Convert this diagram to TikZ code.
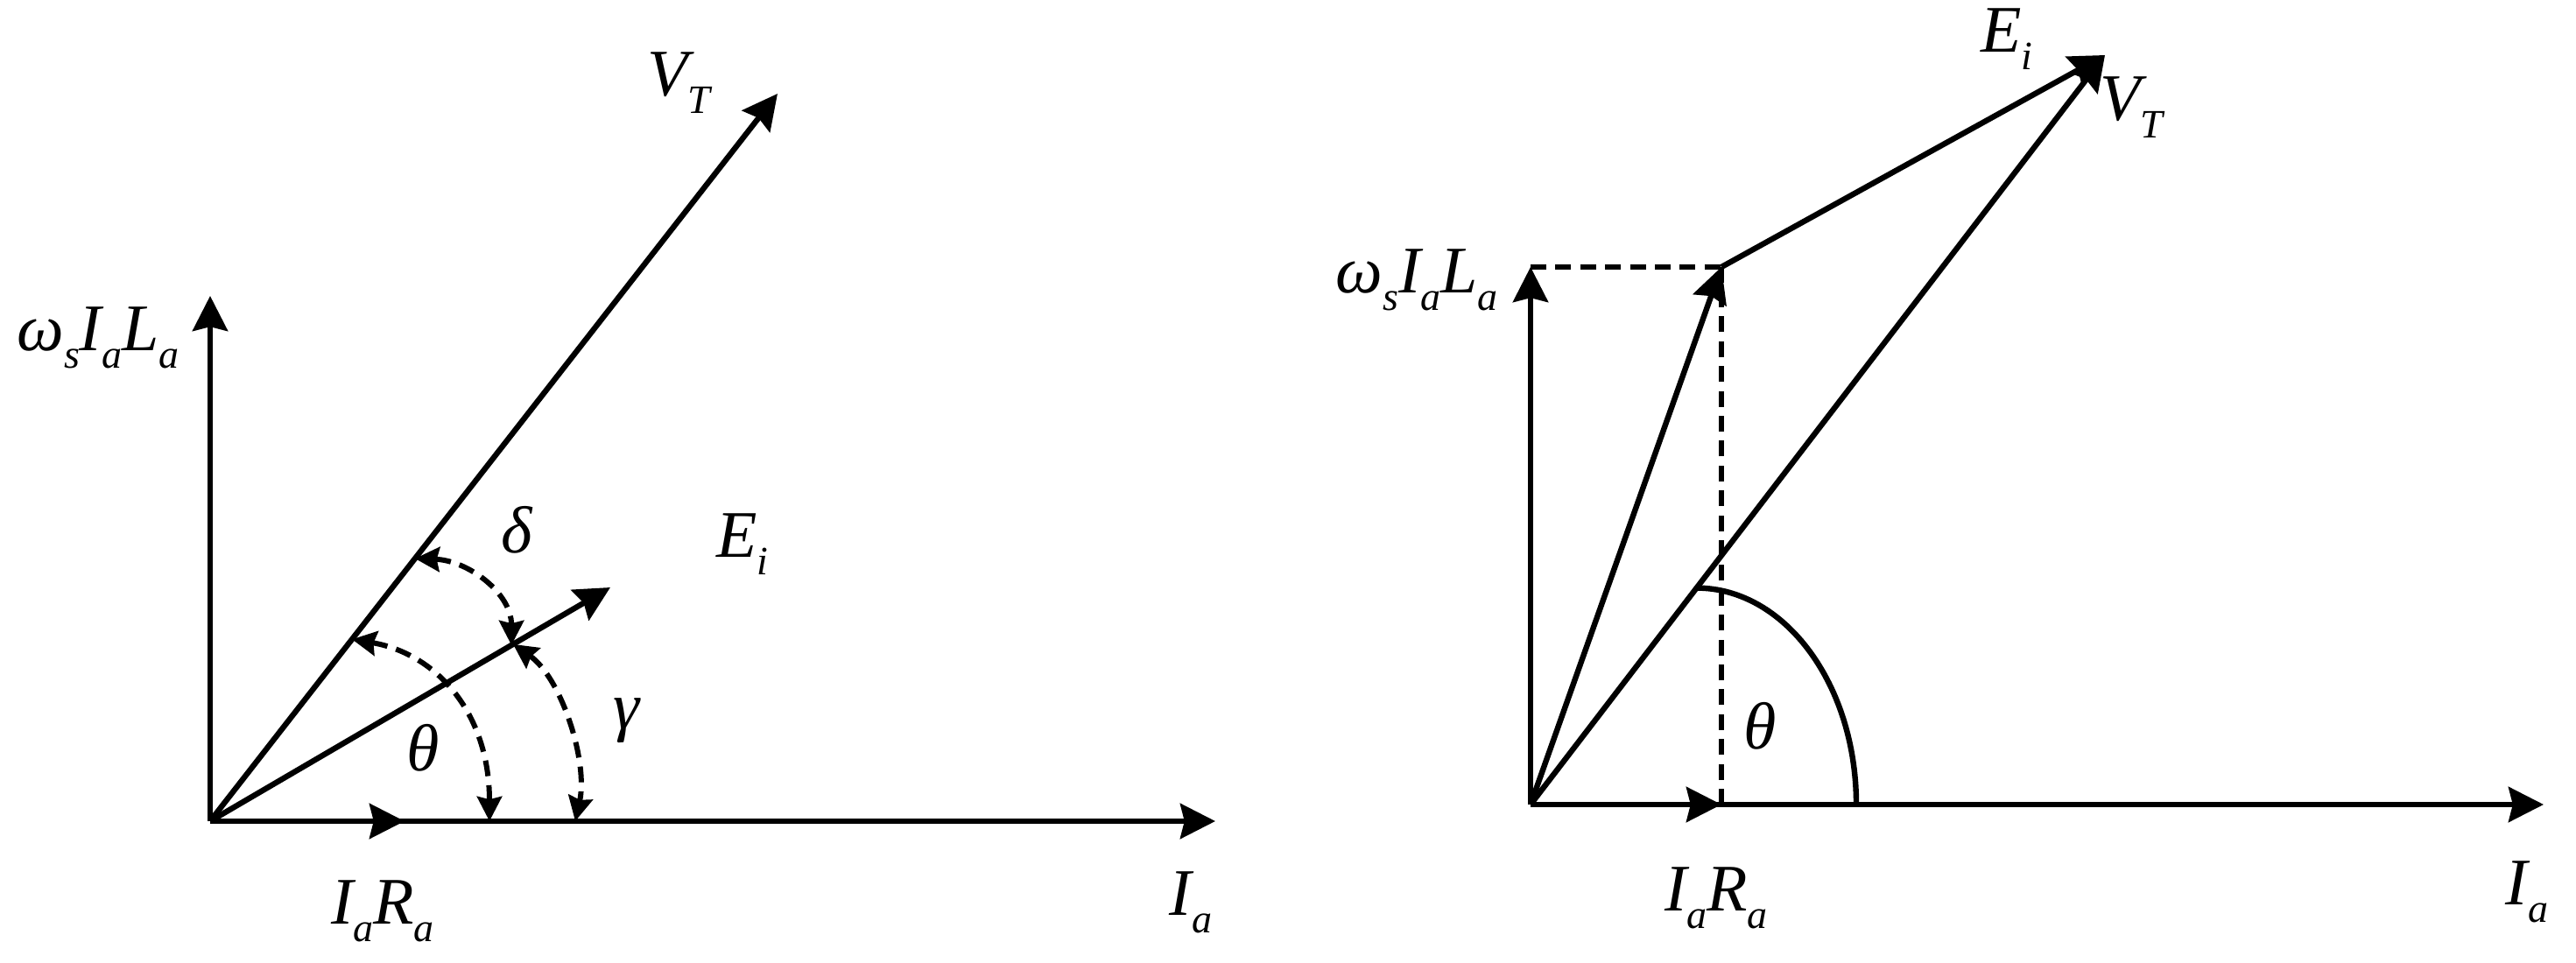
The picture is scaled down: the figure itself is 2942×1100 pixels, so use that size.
\documentclass[tikz,border=0pt]{standalone}
\usepackage{fontspec}
\setmainfont{Liberation Serif}
\usetikzlibrary{arrows.meta,calc}
\newcommand{\lsub}[1]{\raisebox{-5pt}{\fontsize{11.5}{13}\selectfont\itshape #1}}
\begin{document}
\begin{tikzpicture}[x=0.25pt,y=-0.25pt,
  vec/.style={line width=1.6pt,-{Stealth[length=10pt,width=10pt,inset=1.2pt]}},
  plain/.style={line width=1.6pt},
  dsh/.style={line width=1.5pt,dash pattern=on 4.5pt off 2.6pt},
  angarr/.style={dsh,{Stealth[length=7pt,width=7pt,inset=0.8pt]}-{Stealth[length=7pt,width=7pt,inset=0.8pt]}},
  lbl/.style={font=\fontsize{19}{22}\selectfont\itshape, inner sep=0pt, anchor=base}]
\useasboundingbox (0,0) rectangle (2942,1100);
% ---------------- left diagram ----------------
\coordinate (O1) at (240,938);
\coordinate (Y1) at (240,338);
\coordinate (X1) at (1388,938);
\coordinate (V1) at (888,107);
\coordinate (E1) at (697,671);
\coordinate (R1) at (462,938);
\coordinate (thA) at ($(O1)!0.25!(V1)$);
\coordinate (thB) at (559,938);
\coordinate (deA) at ($(O1)!0.361!(V1)$);
\coordinate (deB) at ($(O1)!0.753!(E1)$);
\coordinate (gaA) at ($(O1)!0.757!(E1)$);
\coordinate (gaB) at (657,938);
\draw[vec] (O1) -- (Y1);
\draw[vec] (O1) -- (X1);
\draw[vec] (O1) -- (V1);
\draw[vec] (O1) -- (E1);
\draw[vec] (O1) -- (R1);
\draw[angarr] (thA) .. controls ($(thA)+(95,16)$) and ($(thB)+(0,-125)$) .. (thB);
\draw[angarr] (deA) .. controls ($(deA)+(60,2)$) and ($(deB)+(0,-60)$) .. (deB);
\draw[angarr] (gaA) .. controls ($(gaA)+(55,38)$) and ($(gaB)+(15,-68)$) .. (gaB);
\node[lbl] (lV) at (775,110) {V\lsub{T}};
\node[lbl] (lW) at (112,401) {ω\lsub{s}I\lsub{a}L\lsub{a}};
\node[lbl] (lE) at (848,637) {E\lsub{i}};
\node[lbl] (lD) at (590,632) {δ};
\node[lbl] (lT) at (483,880) {θ};
\node[lbl] (lG) at (715,832) {γ};
\node[lbl] (lIR) at (437,1055) {I\lsub{a}R\lsub{a}};
\node[lbl] (lI) at (1360,1045) {I\lsub{a}};
% ---------------- right diagram ----------------
\coordinate (O2) at (1748,919);
\coordinate (Y2) at (1748,305);
\coordinate (X2) at (2905,919);
\coordinate (T2) at (2404,63);
\coordinate (C2) at (1966,305);
\coordinate (R2) at (1966,919);
\coordinate (P2) at ($(O2)!0.289!(T2)$);
\coordinate (Q2) at (2120,919);
\draw[dsh] (Y2) -- (C2);
\draw[dsh] (R2) -- (C2);
\draw[plain] (P2) .. controls ($(P2)+(101,0)$) and ($(Q2)+(0,-137)$) .. (Q2);
\draw[vec] (O2) -- (Y2);
\draw[vec] (O2) -- (X2);
\draw[vec] (O2) -- (R2);
\draw[vec] (O2) -- (C2);
\draw[vec] (C2) -- (T2);
\draw[vec] (O2) -- (T2);
\node[lbl] (rE) at (2292,60) {E\lsub{i}};
\node[lbl] (rV) at (2434,138) {V\lsub{T}};
\node[lbl] (rW) at (1618,335) {ω\lsub{s}I\lsub{a}L\lsub{a}};
\node[lbl] (rT) at (2010,855) {θ};
\node[lbl] (rIR) at (1960,1040) {I\lsub{a}R\lsub{a}};
\node[lbl] (rI) at (2886,1033) {I\lsub{a}};
\end{tikzpicture}
\end{document}
